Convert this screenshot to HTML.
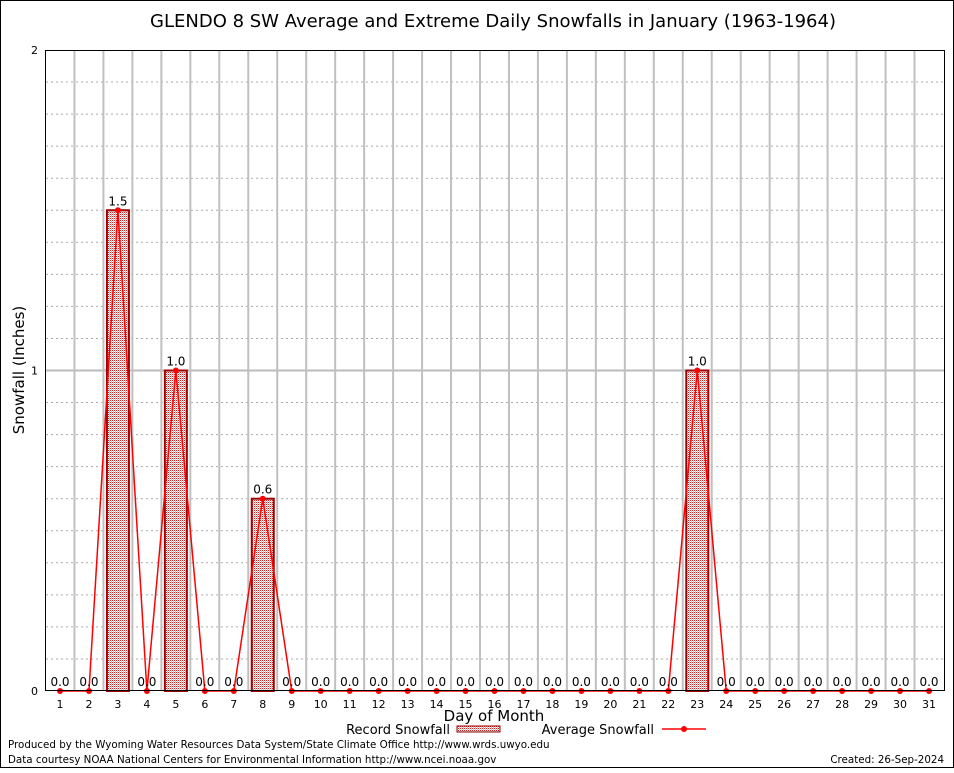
<!DOCTYPE html>
<html><head><meta charset="utf-8"><style>
body{margin:0;background:#fff}
svg text{font-family:"DejaVu Sans","Liberation Sans",sans-serif}
</style></head><body>
<svg id="c" width="954" height="768" xmlns="http://www.w3.org/2000/svg">
<defs><pattern id="chk" width="2" height="2" patternUnits="userSpaceOnUse"><rect width="2" height="2" fill="#fff"/><rect width="1" height="1" fill="#d02020"/><rect x="1" y="1" width="1" height="1" fill="#f0b0b0"/></pattern></defs>
<rect x="0.5" y="0.5" width="953" height="767" fill="#fff" stroke="#000"/>
<text x="493" y="27" font-size="18" text-anchor="middle">GLENDO 8 SW Average and Extreme Daily Snowfalls in January (1963-1964)</text>
<g id="grid"></g>
<g id="bars"></g>
<g id="line"></g>
<g id="labels"></g>
<rect x="45.5" y="50.5" width="899" height="640" fill="none" stroke="#000"/>
<text transform="translate(24,370) rotate(-90)" font-size="15" text-anchor="middle">Snowfall (Inches)</text>
<text x="494" y="721" font-size="15" text-anchor="middle">Day of Month</text>
<g><text x="450" y="734" font-size="13" text-anchor="end">Record Snowfall</text><rect x="457" y="726" width="43" height="6" fill="url(#chk)" stroke="#8b0000"/></g>
<g><text x="654" y="734" font-size="13" text-anchor="end">Average Snowfall</text><line x1="662" y1="729" x2="706" y2="729" stroke="#f00" stroke-width="1.5"/><circle cx="684" cy="729" r="3" fill="#f00"/></g>
<text x="8" y="748" font-size="10.3">Produced by the Wyoming Water Resources Data System/State Climate Office http://www.wrds.uwyo.edu</text>
<text x="8" y="763" font-size="10.3">Data courtesy NOAA National Centers for Environmental Information http://www.ncei.noaa.gov</text>
<text x="944" y="763" font-size="10.3" text-anchor="end">Created: 26-Sep-2024</text>
</svg>
<script>
const days=[1,2,3,4,5,6,7,8,9,10,11,12,13,14,15,16,17,18,19,20,21,22,23,24,25,26,27,28,29,30,31];
const recordVals=[0,0,1.5,0,1.0,0,0,0.6,0,0,0,0,0,0,0,0,0,0,0,0,0,0,1.0,0,0,0,0,0,0,0,0];
const avgVals=[0,0,1.5,0,1.0,0,0,0.6,0,0,0,0,0,0,0,0,0,0,0,0,0,0,1.0,0,0,0,0,0,0,0,0];
const yTicks=[0,1,2];
const NS="http://www.w3.org/2000/svg";
const x=d=>60+(d-1)*(929-60)/30;
const y=v=>691-v*320.5;
function mk(t,a,p){const e=document.createElementNS(NS,t);for(const k in a)e.setAttribute(k,a[k]);p.appendChild(e);return e;}
const grid=document.getElementById('grid');
for(let i=1;i<20;i++){if(i===10)continue;const l=mk('line',{x1:46,x2:944,y1:y(i/10),y2:y(i/10),stroke:'#aaa','stroke-dasharray':'2,3'},grid);

}
yTicks.forEach(t=>{if(t>0&&t<2){const l=mk('line',{x1:46,x2:944,y1:y(t),y2:y(t),stroke:'#bbb','stroke-width':2},grid);

}
const tx=mk('text',{x:38,y:y(t)+4,'font-size':11,'text-anchor':'end','font-family':'Liberation Serif'},grid);tx.textContent=t;

});
days.forEach(d=>{if(d>1){const l=mk('line',{x1:x(d)-14.5,x2:x(d)-14.5,y1:51,y2:690,stroke:'#c0c0c0','stroke-width':2},grid);

}
const tx=mk('text',{x:x(d),y:708,'font-size':11,'text-anchor':'middle','font-family':'Liberation Serif'},grid);tx.textContent=d;

});
const bars=document.getElementById('bars');
days.forEach((d,i)=>{const v=recordVals[i];if(v<=0)return;const r=mk('rect',{x:x(d)-11,y:y(v),width:22,height:y(0)-y(v),fill:'url(#chk)',stroke:'#a00000','stroke-width':2},bars);

});
const lg=document.getElementById('line');
const pl=mk('polyline',{points:days.map((d,i)=>x(d)+','+y(avgVals[i])).join(' '),fill:'none',stroke:'#f00','stroke-width':1.5},lg);


days.forEach((d,i)=>{const c=mk('circle',{cx:x(d),cy:y(avgVals[i]),r:3,fill:'#f00'},lg);

});
const lb=document.getElementById('labels');
days.forEach((d,i)=>{const tx=mk('text',{x:x(d),y:y(recordVals[i])-5,'font-size':12,'text-anchor':'middle'},lb);tx.textContent=recordVals[i].toFixed(1);

});
</script>
</body></html>
